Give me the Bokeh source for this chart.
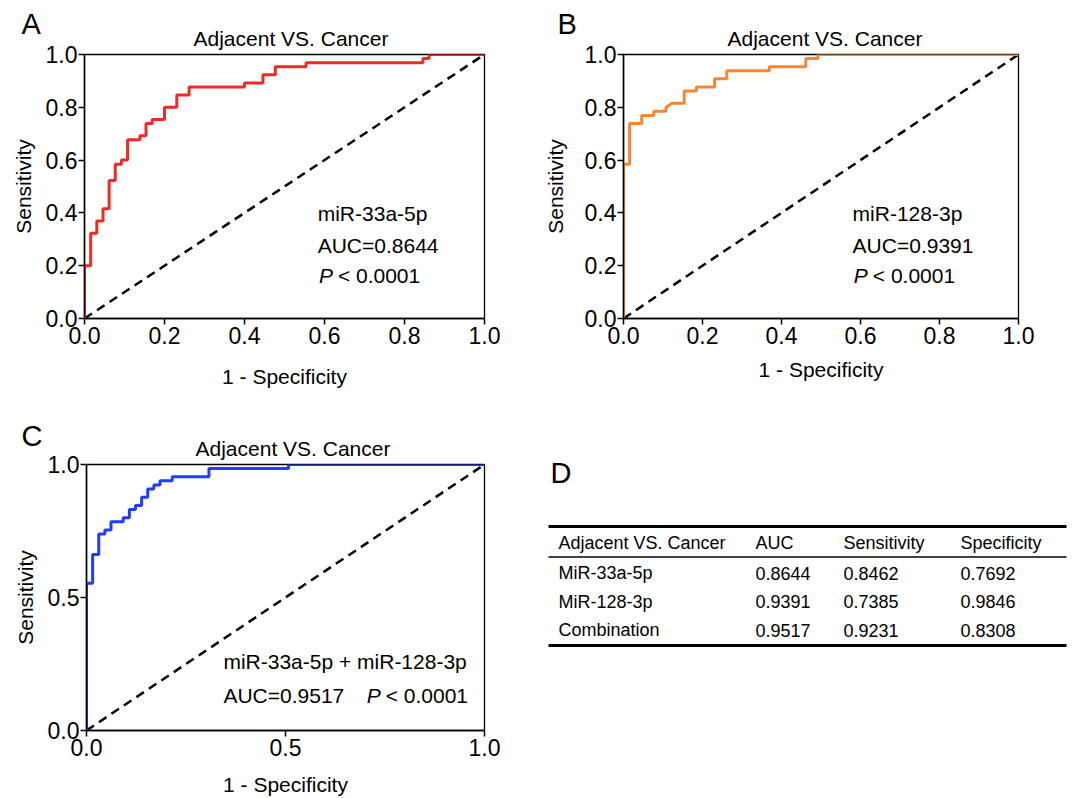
from bokeh.plotting import figure
from bokeh.layouts import column, row
from bokeh.models import Range1d, FixedTicker, Label, PrintfTickFormatter
from bokeh.core.properties import value
from bokeh.embed import file_html
from bokeh.resources import INLINE

FONT = "Liberation Sans"

# ---------------- data ----------------
panel_title = "Adjacent VS. Cancer"
x_label = "1 - Specificity"
y_label = "Sensitivity"

ticks_ab = [0.0, 0.2, 0.4, 0.6, 0.8, 1.0]
ticks_c = [0.0, 0.5, 1.0]
chance_x = [0.0, 1.0]
chance_y = [0.0, 1.0]

# Panel A: miR-33a-5p (step points, 1 - specificity vs sensitivity)
fpr_a = [0, 0, 0.0154, 0.0308, 0.0462, 0.0615, 0.0769, 0.0923, 0.1077, 0.1385, 0.1538,
         0.1692, 0.2, 0.2308, 0.2615, 0.4, 0.4462, 0.4769, 0.5538, 0.8462, 0.8615, 1.0]
tpr_a = [0, 0.2, 0.3231, 0.3692, 0.4154, 0.5231, 0.5846, 0.6, 0.6769, 0.6923, 0.7385,
         0.7538, 0.8, 0.8462, 0.8769, 0.8923, 0.9231, 0.9538, 0.9692, 0.9846, 1.0, 1.0]

# Panel B: miR-128-3p (curve vertices)
fpr_b = [0, 0, 0.0154, 0.0154, 0.0462, 0.0462, 0.0769, 0.0769, 0.1077, 0.1077, 0.1231,
         0.1538, 0.1538, 0.1846, 0.1846, 0.2308, 0.2308, 0.2615, 0.2615, 0.3692, 0.3692,
         0.4615, 0.4615, 0.4923, 0.4923, 1.0]
tpr_b = [0, 0.5846, 0.5846, 0.7385, 0.7385, 0.7692, 0.7692, 0.7846, 0.7846, 0.8, 0.8154,
         0.8154, 0.8615, 0.8615, 0.8769, 0.8769, 0.9077, 0.9077, 0.9385, 0.9385, 0.9538,
         0.9538, 0.9846, 0.9846, 1.0, 1.0]

# Panel C: combination (step points)
fpr_c = [0, 0, 0.0154, 0.0308, 0.0462, 0.0615, 0.0923, 0.1077, 0.1231, 0.1385, 0.1538,
         0.1692, 0.1846, 0.2154, 0.3077, 0.5077, 1.0]
tpr_c = [0, 0.5538, 0.6615, 0.7385, 0.7538, 0.7846, 0.8, 0.8308, 0.8462, 0.8769, 0.9077,
         0.9231, 0.9385, 0.9538, 0.9846, 1.0, 1.0]

auc_text = ["AUC=0.8644", "AUC=0.9391", "AUC=0.9517"]
marker_text = ["miR-33a-5p", "miR-128-3p", "miR-33a-5p + miR-128-3p"]
p_text = "< 0.0001"
panel_letters = ["A", "B", "C", "D"]

# Panel D table
table_header = ["Adjacent VS. Cancer", "AUC", "Sensitivity", "Specificity"]
table_marker = ["MiR-33a-5p", "MiR-128-3p", "Combination"]
table_auc = ["0.8644", "0.9391", "0.9517"]
table_sens = ["0.8462", "0.7385", "0.9231"]
table_spec = ["0.7692", "0.9846", "0.8308"]

RED = "#EE2A24"
ORANGE = "#F58634"
BLUE = "#1F3DFA"


def roc_fig(width, height, left, right, top, bottom, ticks, xlab_standoff, ylab_standoff,
            title_offset):
    p = figure(width=width, height=height, x_range=Range1d(0, 1), y_range=Range1d(0, 1),
               output_backend="svg", toolbar_location=None, tools="",
               min_border_left=left, min_border_right=right,
               min_border_top=top, min_border_bottom=bottom, title=panel_title)
    p.title.align = "left"
    p.title.text_font = FONT
    p.title.text_font_size = "21px"
    p.title.text_font_style = "normal"
    p.title.text_color = "black"
    p.title.standoff = 10
    p.title.offset = title_offset
    p.xgrid.visible = False
    p.ygrid.visible = False
    p.outline_line_color = "black"
    p.outline_line_width = 1.3
    p.background_fill_color = "white"
    p.border_fill_color = "white"
    for ax in (p.xaxis[0], p.yaxis[0]):
        ax.ticker = FixedTicker(ticks=ticks)
        ax.formatter = PrintfTickFormatter(format="%.1f")
        ax.major_tick_in = 0
        ax.major_tick_out = 6
        ax.minor_tick_in = 0
        ax.minor_tick_out = 0
        ax.axis_line_width = 1.5
        ax.axis_line_color = "black"
        ax.major_tick_line_width = 1.5
        ax.major_tick_line_color = "black"
        ax.major_label_text_font = FONT
        ax.major_label_text_font_size = "23px"
        ax.major_label_text_color = "black"
        ax.axis_label_text_font = FONT
        ax.axis_label_text_font_size = "21px"
        ax.axis_label_text_font_style = "normal"
        ax.axis_label_text_color = "black"
    p.xaxis.axis_label = x_label
    p.yaxis.axis_label = y_label
    p.xaxis.major_label_standoff = 2
    p.yaxis.major_label_standoff = 1
    p.xaxis.axis_label_standoff = xlab_standoff
    p.yaxis.axis_label_standoff = ylab_standoff
    p.line(chance_x, chance_y, line_color="black", line_width=2.5, line_dash="9 6")
    return p


def add_text(p, x, y, text, size="21px", style="normal", x_offset=0):
    p.add_layout(Label(x=x, y=y, text=text, text_font=FONT, text_font_size=size,
                       text_font_style=style, text_color="black",
                       text_baseline="alphabetic", text_align="left", x_offset=x_offset))


def panel_letter(p, x, y, letter, place):
    # placed in a side panel (not clipped to the frame), positioned in canvas pixels
    p.add_layout(Label(x=x, y=y, x_units="canvas", y_units="canvas", text=letter,
                       text_font=FONT, text_font_size="29px", text_color="black",
                       text_baseline="alphabetic", text_align="left"), place)


# ---------- Panel A ----------
pA = roc_fig(540, 400, 84, 56, 53, 82, ticks_ab, 18, 8, 109)
pA.step(fpr_a, tpr_a, mode="after", line_color=RED, line_width=3)
add_text(pA, 0.583, 0.396, marker_text[0])
add_text(pA, 0.583, 0.277, auc_text[0])
add_text(pA, 0.586, 0.164, "P", style="italic")
add_text(pA, 0.586, 0.164, p_text, x_offset=19)
panel_letter(pA, 21, 23, panel_letters[0], "right")

# ---------- Panel B ----------
pB = roc_fig(532, 400, 83, 54, 54, 82, ticks_ab, 11, 15, 104)
pB.line(fpr_b, tpr_b, line_color=ORANGE, line_width=3)
add_text(pB, 0.58, 0.396, marker_text[1])
add_text(pB, 0.58, 0.277, auc_text[1])
add_text(pB, 0.583, 0.164, "P", style="italic")
add_text(pB, 0.583, 0.164, p_text, x_offset=19)
panel_letter(pB, 17, 23, panel_letters[1], "right")

# ---------- Panel C ----------
pC = roc_fig(540, 398, 86, 56, 64, 68, ticks_c, 14, 8, 109)
pC.step(fpr_c, tpr_c, mode="after", line_color=BLUE, line_width=3)
add_text(pC, 0.344, 0.259, marker_text[2])
add_text(pC, 0.344, 0.132, auc_text[2])
add_text(pC, 0.704, 0.132, "P", style="italic")
add_text(pC, 0.704, 0.132, p_text, x_offset=19)
panel_letter(pC, 21, 35, panel_letters[2], "right")

# ---------- Panel D (table) ----------
DW, DH = 532, 398
D_TOP, D_BOTTOM = 64, 68   # same frame borders as panel C (rows align frames)
pD = figure(width=DW, height=DH, x_range=Range1d(0, DW), y_range=Range1d(DH - D_BOTTOM, D_TOP),
            output_backend="svg", toolbar_location=None, tools="",
            x_axis_location=None, y_axis_location=None,
            min_border_left=0, min_border_right=0,
            min_border_top=D_TOP, min_border_bottom=D_BOTTOM)
pD.xgrid.visible = False
pD.ygrid.visible = False
pD.outline_line_color = None
pD.border_fill_color = "white"
panel_letter(pD, 10, 72, panel_letters[3], "above")

col_x = [18, 215, 303, 420]
line_x0, line_x1 = 8, 526
top_line_y = 126
header_y = 142.5
first_row_y = 172.8
row_h = 28.4
underline_y = 156.5
bottom_line_y = 245

pD.segment(x0=[line_x0], y0=[top_line_y], x1=[line_x1], y1=[top_line_y],
           line_color="black", line_width=3)
pD.segment(x0=[line_x0], y0=[underline_y], x1=[line_x1], y1=[underline_y],
           line_color="black", line_width=1.5)
pD.segment(x0=[line_x0], y0=[bottom_line_y], x1=[line_x1], y1=[bottom_line_y],
           line_color="black", line_width=3)

pD.text(x=col_x, y=[header_y] * 4, text=table_header, text_font=value(FONT),
        text_font_size=value("18px"), text_baseline="alphabetic", text_color="black")
columns = [table_marker, table_auc, table_sens, table_spec]
for ci, col in enumerate(columns):
    ys = [first_row_y + row_h * i for i in range(len(col))]
    pD.text(x=[col_x[ci]] * len(col), y=ys, text=col, text_font=value(FONT),
            text_font_size=value("18px"), text_baseline="alphabetic", text_color="black")

layout = column(row(pA, pB), row(pC, pD))
open("out.html", "w").write(file_html(layout, INLINE))
